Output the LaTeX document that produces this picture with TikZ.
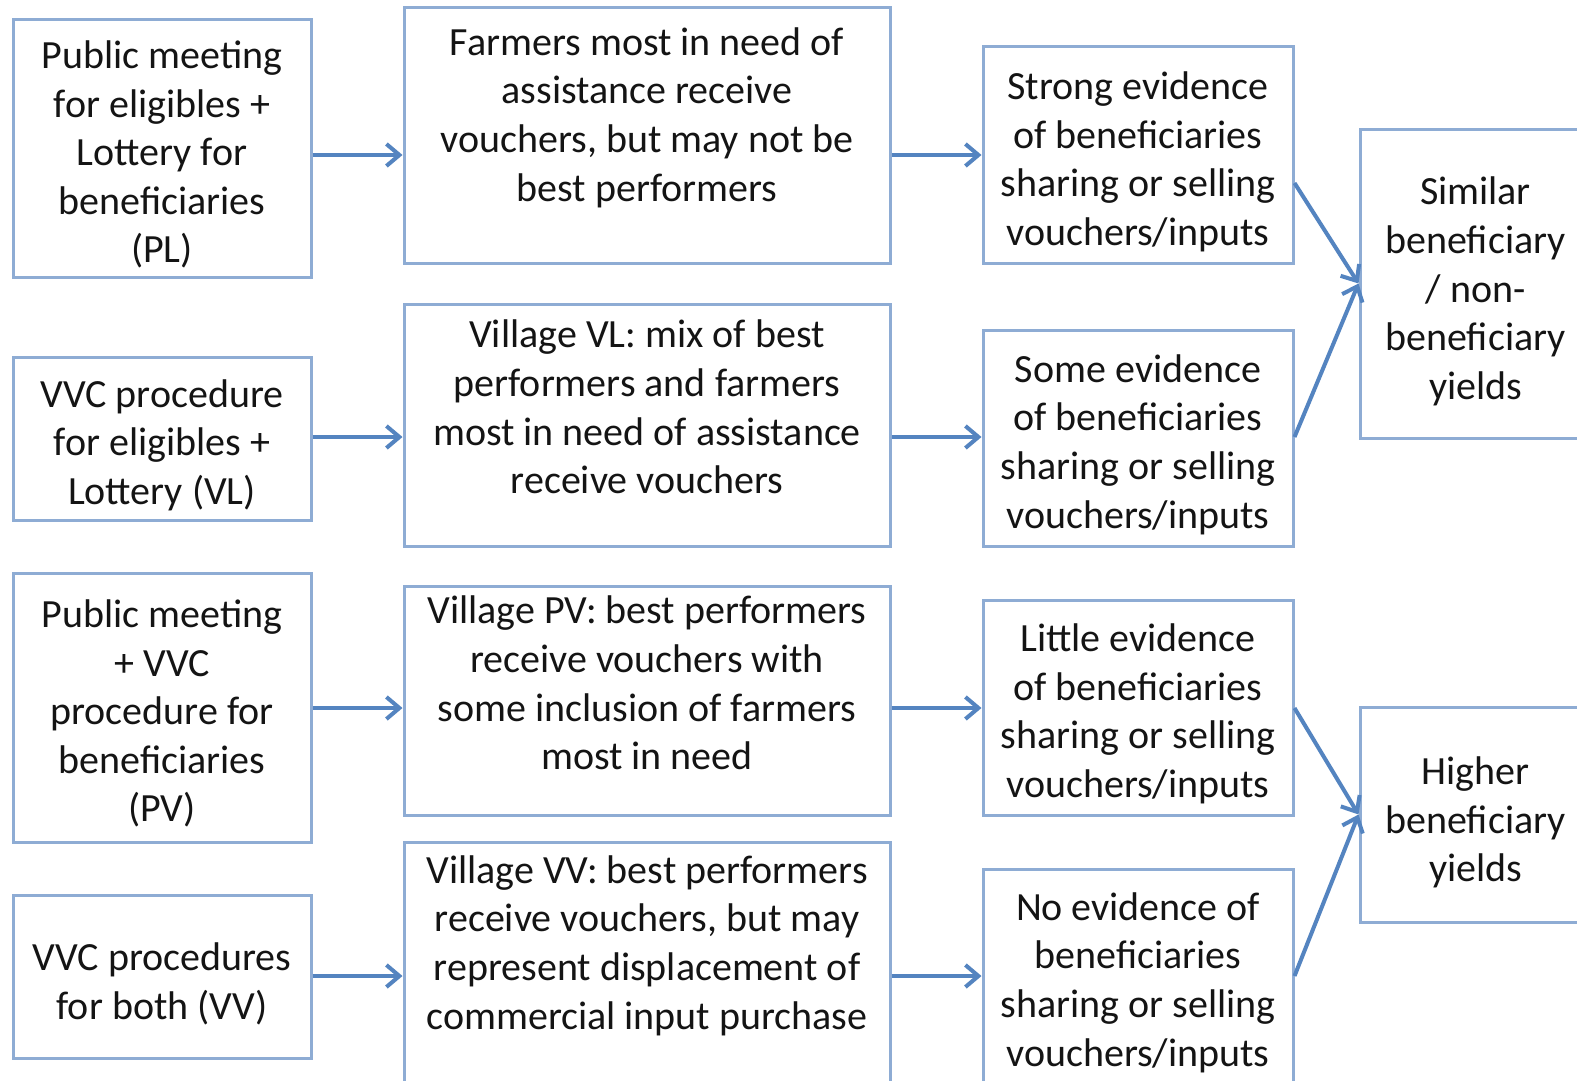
\documentclass[tikz,border=0pt]{standalone}
\usepackage{fontspec}
\setmainfont{Carlito}
\usetikzlibrary{arrows.meta}
\definecolor{boxline}{RGB}{142,172,212}
\definecolor{flow}{RGB}{84,132,192}
\definecolor{ink}{RGB}{20,20,20}
\begin{document}
\begin{tikzpicture}[x=1pt,y=-1pt,
  box/.style={draw=boxline,line width=3pt,rectangle,inner sep=0pt,fill=white},
  txt/.style={align=center,text=ink,inner sep=0pt,font=\fontsize{40}{48.6}\selectfont},
  arr/.style={draw=flow,line width=4pt,-{Straight Barb[length=13pt,width=22pt,line width=4pt]}}]
\useasboundingbox (0,0) rectangle (1577,1081);
\clip (0,0) rectangle (1577,1081);
\fill[white] (0,0) rectangle (1577,1081);

% selection procedures
\node[box,minimum width=298pt,minimum height=257pt] (a1) at (162,148.5) {};
\node[box,minimum width=298pt,minimum height=163pt] (a2) at (162,438.5) {};
\node[box,minimum width=298pt,minimum height=269pt] (a3) at (162,707.5) {};
\node[box,minimum width=298pt,minimum height=163pt] (a4) at (162,976.5) {};
% who receives vouchers
\node[box,minimum width=486pt,minimum height=255pt] (b1) at (647,135.5) {};
\node[box,minimum width=486pt,minimum height=242pt] (b2) at (647,425) {};
\node[box,minimum width=486pt,minimum height=229pt] (b3) at (647,700.5) {};
\node[box,minimum width=486pt,minimum height=258pt] (b4) at (647,971) {};
% sharing / selling evidence
\node[box,minimum width=310pt,minimum height=216pt] (c1) at (1138,155) {};
\node[box,minimum width=310pt,minimum height=216pt] (c2) at (1138,438) {};
\node[box,minimum width=310pt,minimum height=215pt] (c3) at (1138,707.5) {};
\node[box,minimum width=310pt,minimum height=231pt] (c4) at (1138,984.5) {};
% yield outcomes
\node[box,minimum width=231pt,minimum height=309pt] (d1) at (1475.5,283.5) {};
\node[box,minimum width=231pt,minimum height=215pt] (d2) at (1475.5,814.5) {};

% texts
\node[txt] (ta1) at (162,154.5) {Public meeting\\for eligibles +\\Lottery for\\beneficiaries\\(PL)};
\node[txt] (ta2) at (162,445) {VVC procedure\\for eligibles +\\Lottery (VL)};
\node[txt] (ta3) at (162,713.5) {Public meeting\\+ VVC\\procedure for\\beneficiaries\\(PV)};
\node[txt] (ta4) at (162,984) {VVC procedures\\for both (VV)};

\node[txt] (tb1) at (647,117.5) {Farmers most in need of\\assistance receive\\vouchers, but may not be\\best performers};
\node[txt] (tb2) at (647,407) {Village VL: mix of best\\performers and farmers\\most in need of assistance\\receive vouchers};
\node[txt] (tb3) at (647,683) {Village PV: best performers\\receive vouchers with\\some inclusion of farmers\\most in need};
\node[txt] (tb4) at (647,945.5) {Village VV: best performers\\receive vouchers, but may\\represent displacement of\\commercial input purchase};

\node[txt] (tc1) at (1138,162) {Strong evidence\\of beneficiaries\\sharing or selling\\vouchers/inputs};
\node[txt] (tc2) at (1138,444.5) {Some evidence\\of beneficiaries\\sharing or selling\\vouchers/inputs};
\node[txt] (tc3) at (1138,714) {Little evidence\\of beneficiaries\\sharing or selling\\vouchers/inputs};
\node[txt] (tc4) at (1138,982.6) {No evidence of\\beneficiaries\\sharing or selling\\vouchers/inputs};

\node[txt] (td1) at (1475.5,291.5) {Similar\\beneficiary\\/ non-\\beneficiary\\yields};
\node[txt] (td2) at (1475.5,822.6) {Higher\\beneficiary\\yields};

% arrow levels
\coordinate (r1) at (0,155);
\coordinate (r2) at (0,437);
\coordinate (r3) at (0,708);
\coordinate (r4) at (0,976);
\coordinate (s1) at (0,183);

% connectors
\draw[arr] (a1.east |- r1) -- (b1.west |- r1);
\draw[arr] (a2.east |- r2) -- (b2.west |- r2);
\draw[arr] (a3.east |- r3) -- (b3.west |- r3);
\draw[arr] (a4.east |- r4) -- (b4.west |- r4);
\draw[arr] (b1.east |- r1) -- (c1.west |- r1);
\draw[arr] (b2.east |- r2) -- (c2.west |- r2);
\draw[arr] (b3.east |- r3) -- (c3.west |- r3);
\draw[arr] (b4.east |- r4) -- (c4.west |- r4);
\draw[arr] (c1.east |- s1) -- (d1.west);
\draw[arr] (c2.east |- r2) -- (d1.west);
\draw[arr] (c3.east |- r3) -- (d2.west);
\draw[arr] (c4.east |- r4) -- (d2.west);
\end{tikzpicture}
\end{document}
